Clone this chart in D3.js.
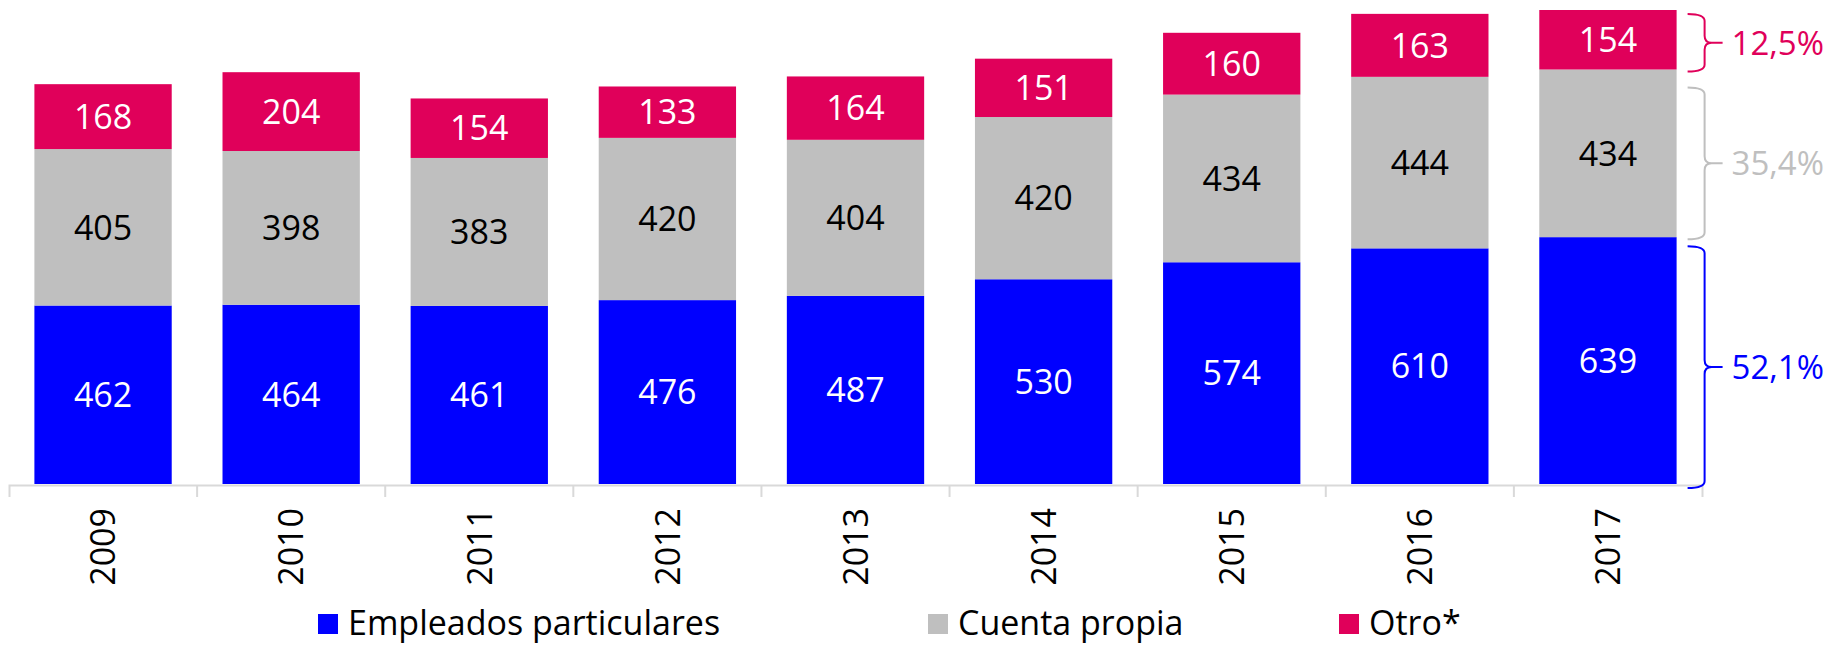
<!DOCTYPE html>
<html>
<head>
<meta charset="utf-8">
<script src="https://cdn.jsdelivr.net/npm/d3@7"></script>
<style>
  body { margin: 0; background: #fff; }
  text { font-family: "Open Sans", Roboto, sans-serif; }
</style>
</head>
<body>
<svg></svg>
<script>
const years = ['2009', '2010', '2011', '2012', '2013', '2014', '2015', '2016', '2017'];
const empleados = [462, 464, 461, 476, 487, 530, 574, 610, 639];
const cuentaPropia = [405, 398, 383, 420, 404, 420, 434, 444, 434];
const otro = [168, 204, 154, 133, 164, 151, 160, 163, 154];
const seriesNames = ['Empleados particulares', 'Cuenta propia', 'Otro*'];
const shares = ['52,1%', '35,4%', '12,5%'];

const colors = ['#0000ff', '#bfbfbf', '#e0005a'];
const labelColors = ['#fff', '#000', '#fff'];

const width = 1841;
const height = 646;
const baseY = 485;

let svg = d3.select('svg')
    .attr('width', width)
    .attr('height', height);

let rows = years.map((y, i) => ({ year: y, emp: empleados[i], cp: cuentaPropia[i], otro: otro[i] }));
let stack = d3.stack().keys(['emp', 'cp', 'otro'])(rows);

let xScale = d3.scaleBand()
    .domain(years)
    .range([9, 1702])
    .paddingInner(0.27)
    .paddingOuter(0.135);

let maxTotal = d3.max(rows, d => d.emp + d.cp + d.otro);
let yScale = d3.scaleLinear()
    .domain([0, maxTotal])
    .range([baseY - 1, 10]);

// bars
let layers = svg.selectAll('g.layer')
    .data(stack)
    .enter()
    .append('g')
    .attr('class', 'layer')
    .attr('fill', (d, i) => colors[i]);

layers.selectAll('rect')
    .data(d => d)
    .enter()
    .append('rect')
    .attr('x', d => xScale(d.data.year))
    .attr('y', d => yScale(d[1]))
    .attr('width', xScale.bandwidth())
    .attr('height', d => yScale(d[0]) - yScale(d[1]));

// values inside bars
stack.forEach((layer, k) => {
    svg.append('g').selectAll('text')
        .data(layer)
        .enter()
        .append('text')
        .attr('x', d => xScale(d.data.year) + xScale.bandwidth() / 2)
        .attr('y', d => (yScale(d[0]) + yScale(d[1])) / 2)
        .attr('dy', '0.36em')
        .attr('text-anchor', 'middle')
        .attr('font-size', 34)
        .attr('fill', labelColors[k])
        .text(d => d[1] - d[0]);
});

// x axis
let xAxis = d3.axisBottom(xScale).tickSize(0).tickSizeOuter(12);
let axisG = svg.append('g')
    .attr('transform', 'translate(0,' + baseY + ')')
    .call(xAxis);
axisG.select('.domain').attr('stroke', '#d9d9d9').attr('stroke-width', 2);
axisG.selectAll('.tick text')
    .attr('transform', 'rotate(-90)')
    .attr('x', -23)
    .attr('y', 0)
    .attr('dy', '0.36em')
    .attr('text-anchor', 'end')
    .attr('font-size', 34)
    .attr('fill', '#000');

let step = xScale.step();
axisG.selectAll('line.sep')
    .data(years.slice(1))
    .enter()
    .append('line')
    .attr('class', 'sep')
    .attr('x1', d => xScale(d) - step * xScale.paddingInner() / 2)
    .attr('x2', d => xScale(d) - step * xScale.paddingInner() / 2)
    .attr('y1', 0)
    .attr('y2', 12)
    .attr('stroke', '#d9d9d9')
    .attr('stroke-width', 2);

// braces with shares for the last year
let lastX = xScale(years[years.length - 1]) + xScale.bandwidth();
let insets = [[9, 4], [18, 2], [4, 2]];

function bracePath(x0, y0, y1) {
    let xs = x0 + 17, xt = x0 + 35, ym = (y0 + y1) / 2, r = 7;
    return 'M' + x0 + ',' + y0 +
        'Q' + xs + ',' + y0 + ' ' + xs + ',' + (y0 + r) +
        'V' + (ym - r) +
        'Q' + xs + ',' + ym + ' ' + (xs + r) + ',' + ym +
        'H' + xt +
        'M' + (xs + r) + ',' + ym +
        'Q' + xs + ',' + ym + ' ' + xs + ',' + (ym + r) +
        'V' + (y1 - r) +
        'Q' + xs + ',' + y1 + ' ' + x0 + ',' + y1;
}

stack.forEach((layer, k) => {
    let last = layer[layer.length - 1];
    let top = yScale(last[1]) + insets[k][0];
    let bot = yScale(last[0]) + insets[k][1];
    let x0 = lastX + 11;
    svg.append('path')
        .attr('d', bracePath(x0, top, bot))
        .attr('fill', 'none')
        .attr('stroke', colors[k])
        .attr('stroke-width', 2);
    svg.append('text')
        .attr('x', x0 + 44)
        .attr('y', (top + bot) / 2)
        .attr('dy', '0.36em')
        .attr('font-size', 33)
        .attr('fill', colors[k])
        .text(shares[k]);
});

// legend
const legendX = [318, 928, 1339];
let legend = svg.append('g').selectAll('g')
    .data(seriesNames)
    .enter()
    .append('g')
    .attr('transform', (d, i) => 'translate(' + legendX[i] + ',614)');
legend.append('rect')
    .attr('width', 20)
    .attr('height', 20)
    .attr('fill', (d, i) => colors[i]);
legend.append('text')
    .attr('x', 30)
    .attr('y', 21)
    .attr('font-size', 34)
    .attr('fill', '#000')
    .text(d => d);
</script>
</body>
</html>
